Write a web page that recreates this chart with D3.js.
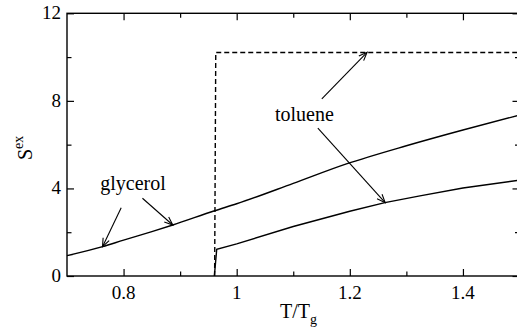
<!DOCTYPE html>
<html>
  <head>
    <meta charset="utf-8">
    <title>Sex vs T/Tg</title>
    <script src="https://d3js.org/d3.v7.min.js"></script>
    <style>
      body { margin: 0; background: #fff; }
      .curve { fill: none; stroke: #000; stroke-width: 1.4; }
      .dashed { stroke-dasharray: 5, 3; }
      .arrow { stroke: #000; stroke-width: 1.1; fill: none; }
    </style>
  </head>
  <body>
    <svg id="chart" width="517" height="336"></svg>
    <script>
      // values
      var glycerol = [
        [0.70, 0.93], [0.763, 1.34], [0.80, 1.64], [0.85, 2.03], [0.887, 2.33],
        [0.961, 2.98], [1.00, 3.30], [1.10, 4.23], [1.194, 5.12], [1.30, 5.95],
        [1.40, 6.67], [1.50, 7.35]
      ];
      var toluene = [
        [0.9605, 0], [0.9647, 1.22], [1.00, 1.47], [1.10, 2.26],
        [1.20, 2.96], [1.262, 3.35], [1.324, 3.66], [1.40, 4.02], [1.50, 4.38]
      ];
      var tolueneDashed = [[0.961, 0], [0.963, 10.21], [1.50, 10.21]];
      var arrows = [
        [[0.7958, 3.12], [0.7628, 1.34]],
        [[0.8334, 3.55], [0.8870, 2.33]],
        [[1.1505, 8.09], [1.2305, 10.22]],
        [[1.1435, 6.76], [1.2625, 3.35]]
      ];
      var labels = [
        { text: "glycerol", x: 0.7589, y: 3.93 },
        { text: "toluene", x: 1.0676, y: 7.08 }
      ];
      var xMajor = [0.8, 1.0, 1.2, 1.4];
      var xMinor = [0.9, 1.1, 1.3];
      var yMajor = [0, 4, 8, 12];
      var yMinor = [2, 6, 10];

      var serif = "'Liberation Serif', 'Times New Roman', Times, 'DejaVu Serif', 'Noto Serif', serif";
      var svg = d3.select("#chart").attr("font-family", serif);
      var margin = { top: 13.3, right: -2.5, bottom: 60, left: 67 };
      var width = 517, height = 336;

      var x = d3.scaleLinear().domain([0.7, 1.5]).range([margin.left, width - margin.right]);
      var y = d3.scaleLinear().domain([0, 12]).range([height - margin.bottom, margin.top]);

      var fmt = function(d) { return String(+d.toFixed(1)); };

      // frame
      svg.append("rect")
        .attr("x", x(0.7)).attr("y", y(12))
        .attr("width", x(1.5) - x(0.7)).attr("height", y(0) - y(12))
        .attr("fill", "none").attr("stroke", "#000").attr("stroke-width", 1.4);

      // inward ticks on all four sides
      [[d3.axisBottom, x, "translate(0," + y(0) + ")", xMajor, xMinor],
       [d3.axisTop, x, "translate(0," + y(12) + ")", xMajor, xMinor],
       [d3.axisLeft, y, "translate(" + x(0.7) + ",0)", yMajor, yMinor],
       [d3.axisRight, y, "translate(" + x(1.5) + ",0)", yMajor, yMinor]]
        .forEach(function(a) {
          var g = svg.append("g").attr("transform", a[2]);
          g.call(a[0](a[1]).tickValues(a[3]).tickSize(-7).tickFormat(""));
          g.append("g").call(a[0](a[1]).tickValues(a[4]).tickSize(-4.5).tickFormat(""));
          g.selectAll(".domain").remove();
          g.selectAll("line").attr("stroke-width", 1.2);
        });

      // tick labels
      svg.selectAll(".xl").data(xMajor).enter().append("text")
        .attr("x", function(d) { return x(d); }).attr("y", y(0) + 23)
        .attr("text-anchor", "middle").attr("font-size", 19)
        .text(fmt);
      svg.selectAll(".yl").data(yMajor).enter().append("text")
        .attr("x", x(0.7) - 6).attr("y", function(d) { return y(d) + 6; })
        .attr("text-anchor", "end").attr("font-size", 19)
        .text(fmt);

      // axis titles
      var xt = svg.append("text").attr("x", 280).attr("y", 318).attr("font-size", 20);
      xt.append("tspan").text("T/T");
      xt.append("tspan").attr("font-size", 14).attr("dy", 6).text("g");
      var yt = svg.append("text").attr("transform", "translate(32,160) rotate(-90)").attr("font-size", 20);
      yt.append("tspan").text("S");
      yt.append("tspan").attr("font-size", 14).attr("dy", -9).text("ex");

      // curves
      var line = d3.line().x(function(d) { return x(d[0]); }).y(function(d) { return y(d[1]); });
      var smooth = d3.line().curve(d3.curveMonotoneX)
        .x(function(d) { return x(d[0]); }).y(function(d) { return y(d[1]); });
      svg.append("path").datum(glycerol).attr("class", "curve").attr("d", smooth);
      svg.append("path").datum(toluene).attr("class", "curve").attr("d", line);
      svg.append("path").datum(tolueneDashed).attr("class", "curve dashed").attr("d", line);

      // annotation arrows with open heads
      arrows.forEach(function(a) {
        var x0 = x(a[0][0]), y0 = y(a[0][1]), x1 = x(a[1][0]), y1 = y(a[1][1]);
        var ang = Math.atan2(y1 - y0, x1 - x0), h = 9, s = 0.38;
        svg.append("line").attr("class", "arrow")
          .attr("x1", x0).attr("y1", y0).attr("x2", x1).attr("y2", y1);
        svg.append("path").attr("class", "arrow")
          .attr("d", "M" + (x1 - h * Math.cos(ang - s)) + "," + (y1 - h * Math.sin(ang - s)) +
            "L" + x1 + "," + y1 +
            "L" + (x1 - h * Math.cos(ang + s)) + "," + (y1 - h * Math.sin(ang + s)));
      });

      svg.selectAll(".lab").data(labels).enter().append("text")
        .attr("x", function(d) { return x(d.x); }).attr("y", function(d) { return y(d.y); })
        .attr("font-size", 20)
        .text(function(d) { return d.text; });
    </script>
  </body>
</html>
